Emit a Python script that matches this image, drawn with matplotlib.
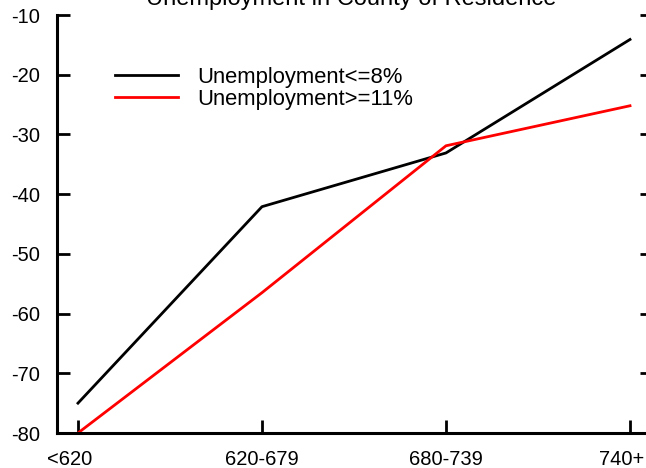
import matplotlib
matplotlib.use("Agg")
import matplotlib.pyplot as plt
from matplotlib.transforms import ScaledTranslation

plt.rcParams['font.family'] = ['Liberation Sans', 'DejaVu Sans']
plt.rcParams['axes.unicode_minus'] = False

categories = ["<620", "620-679", "680-739", "740+"]
low_unemp = [-75.0, -42.1, -33.1, -14.1]
high_unemp = [-80.0, -56.5, -31.9, -25.2]
series_labels = ["Unemployment<=8%", "Unemployment>=11%"]
y_ticks = [-80, -70, -60, -50, -40, -30, -20, -10]
title = "Unemployment in County of Residence"

fig = plt.figure(figsize=(6.46, 4.68), dpi=100)
ax = fig.add_axes([57 / 646, 1 - 433 / 468, 596 / 646, 418 / 468])

x = list(range(len(categories)))
ax.plot(x, low_unemp, color="black", lw=2.0, label=series_labels[0], clip_on=False)
ax.plot(x, high_unemp, color="#ff0000", lw=2.0, label=series_labels[1], clip_on=False)

ax.set_xlim(-0.114, 3.125)
ax.set_ylim(-80, -10)
ax.set_xticks(x)
ax.set_xticklabels(categories)
ax.set_yticks(y_ticks)
ax.set_yticklabels([str(v) for v in y_ticks])
ax.set_yticks([-10], minor=True)

ax.spines["top"].set_visible(False)
for side in ("left", "bottom", "right"):
    ax.spines[side].set_linewidth(2.2)

ax.tick_params(axis="y", which="major", direction="in", length=9.5, width=2,
               left=True, right=True, labelsize=14.5, pad=12)
ax.tick_params(axis="y", which="minor", direction="in", length=18.5, width=2,
               left=True, right=True)
ax.tick_params(axis="x", direction="in", length=9.5, width=2, top=False,
               labelsize=14.5, pad=12)

# nudge the outermost category labels inward
labels = ax.get_xticklabels()
for lbl in (labels[0], labels[-1]):
    lbl.set_transform(lbl.get_transform() + ScaledTranslation(-8 / 100, 0, fig.dpi_scale_trans))

fig.text(351 / 646, 1 - 5 / 468, title, ha="center", va="baseline", fontsize=17)

ax.legend(loc="upper left", bbox_to_anchor=(0.0826, 0.897), frameon=False,
          fontsize=15.8, handlelength=2.86, handletextpad=0.9, labelspacing=0.05,
          borderaxespad=0)

fig.savefig("out.png", dpi=100)
